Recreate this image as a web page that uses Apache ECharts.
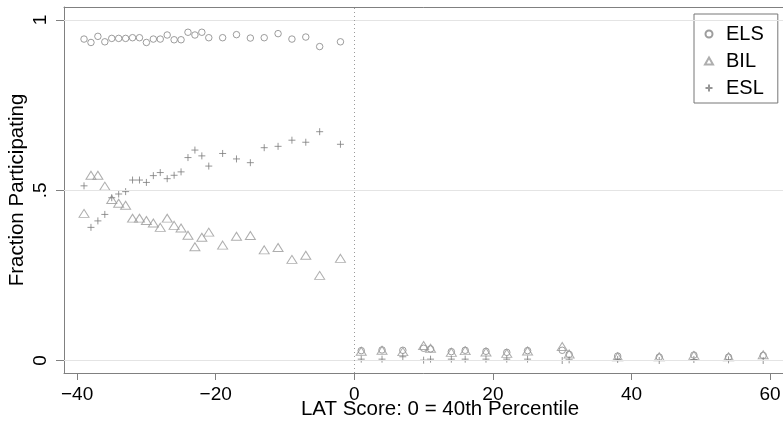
<!DOCTYPE html>
<html>
<head>
<meta charset="utf-8">
<script src="https://cdn.jsdelivr.net/npm/echarts@6/dist/echarts.min.js"></script>
<style>
  html, body { margin: 0; padding: 0; background: #fff; }
  #chart { width: 783px; height: 423px; }
</style>
</head>
<body>
<div id="chart"></div>
<script>
// LAT score relative to the 40th percentile cutoff
const latScore = [
  -39, -38, -37, -36, -35, -34, -33, -32, -31, -30, -29, -28, -27, -26, -25, -24, -23, -22, -21,
  -19, -17, -15, -13, -11, -9, -7, -5, -2,
  1, 4, 7, 10, 11, 14, 16, 19, 22, 25, 30, 31, 38, 44, 49, 54, 59
];

// Fraction participating in each program
const elsShare = [
  0.944, 0.934, 0.952, 0.936, 0.946, 0.946, 0.946, 0.948, 0.948, 0.934, 0.944, 0.944, 0.956, 0.942, 0.942, 0.964, 0.956, 0.964, 0.948,
  0.948, 0.957, 0.947, 0.948, 0.960, 0.944, 0.950, 0.922, 0.936,
  0.029, 0.031, 0.030, 0.036, 0.034, 0.026, 0.030, 0.027, 0.024, 0.029, 0.030, 0.018, 0.013, 0.010, 0.016, 0.010, 0.015
];
const bilShare = [
  0.432, 0.544, 0.544, 0.512, 0.473, 0.462, 0.456, 0.418, 0.418, 0.411, 0.404, 0.391, 0.418, 0.397, 0.389, 0.368, 0.334, 0.362, 0.377,
  0.339, 0.365, 0.367, 0.325, 0.332, 0.297, 0.309, 0.250, 0.300,
  0.027, 0.030, 0.026, 0.044, 0.036, 0.024, 0.029, 0.025, 0.021, 0.028, 0.041, 0.019, 0.011, 0.011, 0.015, 0.011, 0.017
];
const eslShare = [
  0.513, 0.391, 0.410, 0.429, 0.478, 0.489, 0.496, 0.530, 0.530, 0.523, 0.543, 0.552, 0.534, 0.544, 0.554, 0.596, 0.618, 0.601, 0.571,
  0.608, 0.592, 0.581, 0.625, 0.629, 0.647, 0.641, 0.672, 0.635,
  0.004, 0.004, 0.011, 0.001, 0.004, 0.004, 0.004, 0.004, 0.004, 0.004, 0.000, 0.002, 0.003, 0.000, 0.003, 0.002, 0.000
];

// Axis ticks
const xTicks = [-40, -20, 0, 20, 40, 60];
const yTicks = [0, 0.5, 1];
const yTickText = { 0: '0', 0.5: '.5', 1: '1' };

const FONT = "'Liberation Sans', Arial, Helvetica, sans-serif";
const AXIS_COLOR = '#808080';

const pairs = (ys) => latScore.map((x, i) => [x, ys[i]]);

const hollow = (c) => ({ color: 'rgba(255,255,255,0)', borderColor: c, borderWidth: 1 });

const chart = echarts.init(document.getElementById('chart'), null, { renderer: 'canvas' });

chart.setOption({
  animation: false,
  backgroundColor: '#fff',
  textStyle: { fontFamily: FONT },
  grid: { left: 64, top: 7, width: 752, height: 366, containLabel: false, outerBoundsMode: 'none' },
  legend: {
    orient: 'vertical',
    left: 694,
    top: 14,
    width: 83,
    padding: [10, 14, 5, 10],
    itemGap: 7,
    itemWidth: 8,
    itemHeight: 7,
    symbolKeepAspect: true,
    borderColor: '#777',
    borderWidth: 1,
    textStyle: { fontSize: 20, color: '#000', fontFamily: FONT, padding: [0, 0, 0, 8] },
    data: ['ELS', 'BIL', 'ESL']
  },
  xAxis: [
    {
      type: 'value',
      min: -41.89,
      max: 66.62,
      position: 'bottom',
      axisLine: { show: true, onZero: false, lineStyle: { color: AXIS_COLOR, width: 1 } },
      axisTick: { show: true, length: 7, customValues: xTicks, lineStyle: { color: AXIS_COLOR } },
      axisLabel: {
        customValues: xTicks,
        fontSize: 19,
        color: '#000',
        margin: 12,
        formatter: (v) => String(v).replace('-', '\u2212')
      },
      splitLine: { show: false },
      name: 'LAT Score: 0 = 40th Percentile',
      nameLocation: 'middle',
      nameGap: 26,
      nameMoveOverlap: false,
      nameTextStyle: { fontSize: 20.5, color: '#000', fontFamily: FONT, verticalAlign: 'top' }
    },
    {
      type: 'value',
      min: -41.89,
      max: 66.62,
      position: 'top',
      axisLine: { show: true, onZero: false, lineStyle: { color: AXIS_COLOR, width: 1 } },
      axisTick: { show: false },
      axisLabel: { show: false },
      splitLine: { show: false }
    }
  ],
  yAxis: {
    type: 'value',
    min: -0.0367,
    max: 1.0382,
    axisLine: { show: true, onZero: false, lineStyle: { color: AXIS_COLOR, width: 1 } },
    axisTick: { show: true, length: 8, customValues: yTicks, lineStyle: { color: AXIS_COLOR } },
    axisLabel: {
      customValues: yTicks,
      rotate: 90,
      fontSize: 19,
      color: '#000',
      margin: 14,
      formatter: (v) => yTickText[v] !== undefined ? yTickText[v] : String(v)
    },
    splitLine: { show: false },
    name: 'Fraction Participating',
    nameLocation: 'middle',
    nameGap: 36,
    nameMoveOverlap: false,
    nameTextStyle: { fontSize: 20.5, color: '#000', fontFamily: FONT }
  },
  series: [
    {
      // horizontal reference lines and the cutoff
      type: 'scatter',
      xAxisIndex: 0,
      data: [],
      silent: true,
      z: 1,
      markLine: {
        silent: true,
        symbol: 'none',
        label: { show: false },
        animation: false,
        data: [
          { yAxis: 0, lineStyle: { color: '#e4e4e4', width: 1, type: 'solid' } },
          { yAxis: 0.5, lineStyle: { color: '#e4e4e4', width: 1, type: 'solid' } },
          { yAxis: 1, lineStyle: { color: '#e4e4e4', width: 1, type: 'solid' } },
          { xAxis: 0, lineStyle: { color: '#9a9a9a', width: 1, type: [1, 3] } }
        ]
      }
    },
    {
      name: 'ELS',
      type: 'scatter',
      xAxisIndex: 0,
      symbol: 'circle',
      symbolSize: 6.5,
      symbolKeepAspect: true,
      itemStyle: hollow('#858585'),
      data: pairs(elsShare),
      z: 3
    },
    {
      name: 'BIL',
      type: 'scatter',
      xAxisIndex: 0,
      symbol: 'triangle',
      symbolSize: [10, 8],
      itemStyle: hollow('#9a9a9a'),
      data: pairs(bilShare),
      z: 3
    },
    {
      name: 'ESL',
      type: 'scatter',
      xAxisIndex: 0,
      symbol: 'path://M0,5L10,5M5,0L5,10',
      symbolSize: 7,
      itemStyle: hollow('#7c7c7c'),
      data: pairs(eslShare),
      z: 3
    }
  ]
});
</script>
</body>
</html>
